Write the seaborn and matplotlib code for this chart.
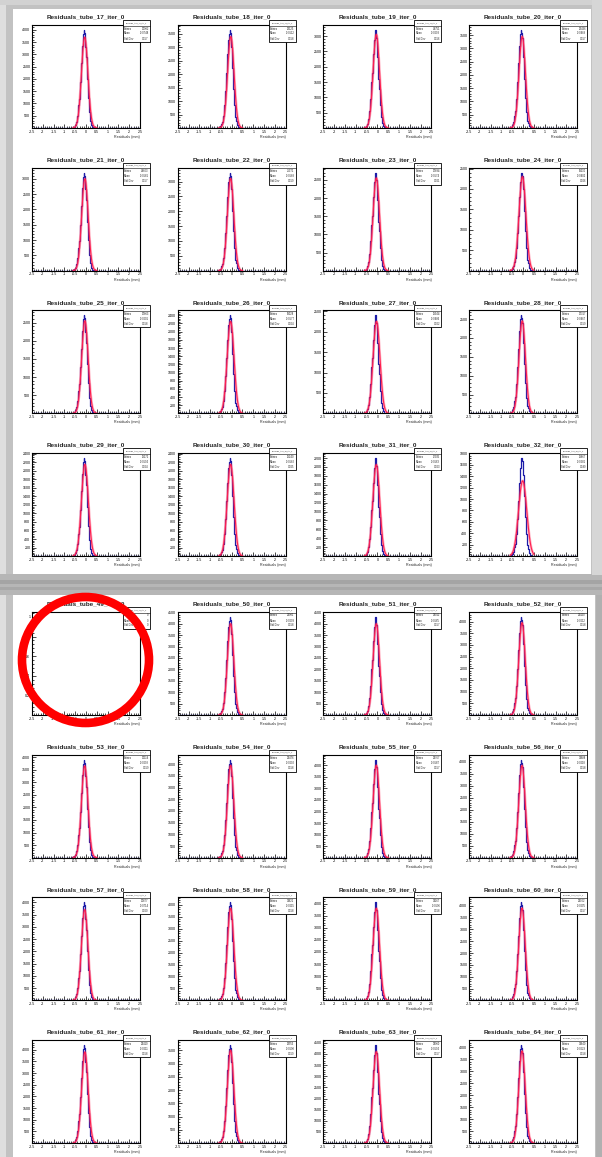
import numpy as np
import pandas as pd
import matplotlib
matplotlib.use("Agg")
import matplotlib.pyplot as plt
import seaborn as sns
from matplotlib.patches import Rectangle, Ellipse

sns.set_style("ticks")
plt.rcParams['font.family'] = ['Liberation Sans', 'DejaVu Sans']

W, H = 602, 1157

# Tubes shown on the two canvases (top: 17-32, bottom: 49-64)
tubes = [17, 18, 19, 20, 21, 22, 23, 24, 25, 26, 27, 28, 29, 30, 31, 32,
         49, 50, 51, 52, 53, 54, 55, 56, 57, 58, 59, 60, 61, 62, 63, 64]

# Peak bin content of each residual histogram (0 = empty histogram)
peaks = [4000, 3650, 3200, 3700, 3200, 3300, 2700, 2400,
         2700, 2400, 2400, 2600, 2300, 2300, 2200, 1720,
         0, 4300, 4300, 4200, 3900, 4200, 4250, 4100,
         4000, 4100, 4050, 4150, 4200, 3700, 4400, 4100]

# Gaussian fit amplitude, mean and sigma (mm)
fit_amp = [3700, 3400, 3050, 3450, 3000, 3100, 2550, 2300,
           2550, 2250, 2250, 2450, 2150, 2150, 2050, 1320,
           0, 4000, 4000, 3950, 3650, 3950, 4000, 3850,
           3700, 3850, 3800, 3900, 3900, 3500, 4100, 3850]
fit_mean = [-0.06, -0.04, -0.05, -0.04, -0.05, -0.05, -0.05, -0.03,
            -0.05, -0.05, -0.04, -0.04, -0.05, -0.05, -0.05, -0.02,
            0.0, -0.05, -0.05, -0.05, -0.06, -0.05, -0.05, -0.05,
            -0.06, -0.05, -0.05, -0.05, -0.05, -0.05, -0.05, -0.05]
fit_sigma = [0.15, 0.15, 0.15, 0.15, 0.15, 0.15, 0.15, 0.16,
             0.15, 0.16, 0.16, 0.15, 0.16, 0.16, 0.16, 0.19,
             0.1, 0.15, 0.15, 0.15, 0.15, 0.15, 0.15, 0.15,
             0.15, 0.15, 0.15, 0.15, 0.15, 0.15, 0.15, 0.15]

# Major y tick spacing per histogram
ysteps = [500, 500, 500, 500, 500, 500, 500, 500,
          500, 200, 500, 500, 200, 200, 200, 200,
          0.2, 500, 500, 500, 500, 500, 500, 500,
          500, 500, 500, 500, 500, 500, 500, 500]

# Statistics box contents
entries = ["30982", "28125", "24751", "28436", "24603", "25371", "20894", "19210",
           "20863", "19028", "18944", "20317", "18172", "18240", "17395", "13867",
           "0", "32981", "33012", "32420", "30114", "32476", "32767", "31688",
           "30877", "31621", "31267", "32002", "32410", "28553", "33960", "31640"]
means = ["-0.0748", "-0.0512", "-0.0603", "-0.0469", "-0.0581", "-0.0588", "-0.0574", "-0.0402",
         "-0.0601", "-0.0577", "-0.0486", "-0.0467", "-0.0594", "-0.0582", "-0.0563", "-0.0281",
         "0", "-0.0609", "-0.0585", "-0.0612", "-0.0693", "-0.0602", "-0.0587", "-0.0618",
         "-0.0714", "-0.0615", "-0.0596", "-0.0605", "-0.0611", "-0.0598", "-0.0594", "-0.0629"]
stds = ["0.157", "0.158", "0.156", "0.157", "0.157", "0.159", "0.161", "0.166",
        "0.158", "0.164", "0.162", "0.159", "0.164", "0.165", "0.163", "0.199",
        "0", "0.158", "0.157", "0.158", "0.159", "0.158", "0.157", "0.158",
        "0.160", "0.158", "0.158", "0.157", "0.158", "0.159", "0.157", "0.158"]

# Relative bin contents around the histogram mode, in bins of 0.025 mm
shape_rel = [0.002, 0.004, 0.006, 0.009, 0.013, 0.02, 0.03, 0.045, 0.065, 0.09,
             0.125, 0.17, 0.23, 0.30, 0.38, 0.47, 0.56, 0.66, 0.75, 0.84,
             0.90, 0.96, 1.00, 0.97, 0.92, 0.83, 0.72, 0.61, 0.50, 0.40,
             0.31, 0.23, 0.16, 0.11, 0.075, 0.05, 0.032, 0.02, 0.012, 0.007,
             0.004, 0.002]
MODE_INDEX = 22

BIN_W = 0.025
BIN_CENTERS = np.round(np.arange(-2.5 + BIN_W / 2, 2.5, BIN_W), 4)


def fx(x):
    return x / W


def fy(y):
    return 1 - y / H


fig = plt.figure(figsize=(W / 100, H / 100), dpi=100)
fig.patch.set_facecolor("#bdbdbd")

# Window frames around the two canvases
frame_bits = [
    (0, 0, 602, 1157, "#c2c2c2"),
    (0, 0, 6, 1157, "#dedede"),
    (0, 0, 602, 5, "#d2d2d2"),
    (0, 574, 602, 21, "#b6b6b6"),
    (0, 580, 602, 4, "#a4a4a4"),
    (0, 587, 602, 3, "#a8a8a8"),
    (592, 0, 10, 575, "#d6d6d6"),
    (596, 595, 6, 562, "#b0b0b0"),
]
for x0, y0, w, h, col in frame_bits:
    fig.add_artist(Rectangle((fx(x0), fy(y0 + h)), w / W, h / H,
                             transform=fig.transFigure, facecolor=col,
                             edgecolor="none", zorder=-10))
# White canvases
fig.add_artist(Rectangle((fx(13), fy(574)), (591 - 13) / W, (574 - 9) / H,
                         transform=fig.transFigure, facecolor="white",
                         edgecolor="none", zorder=-9))
fig.add_artist(Rectangle((fx(13), fy(1157)), (595 - 13) / W, (1157 - 595) / H,
                         transform=fig.transFigure, facecolor="white",
                         edgecolor="none", zorder=-9))

AX_W, AX_H = 108, 103
COL_PITCH, ROW_PITCH = 145.7, 142.7
PANEL_SHIFT = 587

BLUE = "#1c1ca8"
RED = "#ff1f4f"

for i, tube in enumerate(tubes):
    panel, k = divmod(i, 16)
    r, c = divmod(k, 4)
    left = 32 + c * COL_PITCH
    top = 25 + panel * PANEL_SHIFT + r * ROW_PITCH
    ax = fig.add_axes([fx(left), fy(top + AX_H), AX_W / W, AX_H / H])

    peak = peaks[i]
    if peak > 0:
        counts = np.zeros_like(BIN_CENTERS)
        idx0 = int(np.argmin(np.abs(BIN_CENTERS - (fit_mean[i] - 0.035)))) - MODE_INDEX
        for j, rel in enumerate(shape_rel):
            counts[idx0 + j] = rel * peak
        hist_df = pd.DataFrame({"x": BIN_CENTERS, "n": counts})
        sns.lineplot(data=hist_df, x="x", y="n", ax=ax, color=BLUE,
                     drawstyle="steps-mid", lw=0.9, estimator=None)
        xf = np.linspace(-0.6, 0.5, 120)
        yf = fit_amp[i] * np.exp(-0.5 * ((xf - fit_mean[i]) / fit_sigma[i]) ** 2)
        fit_df = pd.DataFrame({"x": xf, "f": yf})
        sns.lineplot(data=fit_df, x="x", y="f", ax=ax, color=RED, lw=1.9,
                     alpha=0.35, estimator=None)
        sns.lineplot(data=fit_df, x="x", y="f", ax=ax, color=RED, lw=0.8,
                     estimator=None)
        ymax = peak * 1.05
    else:
        ymax = 1.05

    ax.set_xlim(-2.5, 2.5)
    ax.set_ylim(0, ymax)
    ax.set_xticks(np.arange(-2.5, 2.51, 0.5))
    ax.set_xticks(np.arange(-2.5, 2.51, 0.1), minor=True)
    ax.set_xticklabels([f"{v:g}" for v in np.arange(-2.5, 2.51, 0.5)])
    step = ysteps[i]
    yt = np.arange(0, ymax + 1e-9, step)
    ax.set_yticks(yt)
    ax.set_yticks(np.arange(0, ymax + 1e-9, step / 5), minor=True)
    ax.set_yticklabels(["" if v == 0 else f"{v:g}" for v in yt])
    ax.tick_params(which="both", direction="in", width=0.5, labelsize=2.6,
                   pad=1.2, colors="black")
    ax.tick_params(which="major", length=2.6)
    ax.tick_params(which="minor", length=1.3)
    for sp in ax.spines.values():
        sp.set_linewidth(0.8)
        sp.set_color("black")
    ax.set_ylabel("")
    ax.set_xlabel("Residuals (mm)", fontsize=2.6, loc="right", labelpad=1)
    ax.set_title(f"Residuals_tube_{tube}_iter_0", fontsize=4.6,
                 fontweight="bold", pad=4.5)

    # Statistics box
    bx0, bx1 = left + AX_W - 17, left + AX_W + 10
    by0, by1 = top - 5, top + 17
    fig.add_artist(Rectangle((fx(bx0), fy(by1)), (bx1 - bx0) / W, (by1 - by0) / H,
                             transform=fig.transFigure, facecolor="white",
                             edgecolor="black", lw=0.6, zorder=5))
    fig.add_artist(plt.Line2D([fx(bx0), fx(bx1)], [fy(by0 + 5.5)] * 2,
                              transform=fig.transFigure, color="black",
                              lw=0.4, zorder=6))
    fig.text(fx((bx0 + bx1) / 2), fy(by0 + 2.8), f"Residuals_tube_{tube}_iter_0",
             fontsize=1.4, ha="center", va="center", zorder=7)
    rows = [("Entries", entries[i]), ("Mean", means[i]), ("Std Dev", stds[i])]
    for j, (lab, val) in enumerate(rows):
        yy = fy(by0 + 8.5 + j * 5.0)
        fig.text(fx(bx0 + 1.2), yy, lab, fontsize=1.9, ha="left", va="center", zorder=7)
        fig.text(fx(bx1 - 1.2), yy, val, fontsize=1.9, ha="right", va="center", zorder=7)

# Highlight ring around the empty histogram
fig.add_artist(Ellipse((fx(85.5), fy(660)), 127 / W, 126 / H,
                       transform=fig.transFigure, facecolor="none",
                       edgecolor="#ff0000", lw=6.2, zorder=20))

fig.savefig("out.png", dpi=100, facecolor=fig.get_facecolor())
